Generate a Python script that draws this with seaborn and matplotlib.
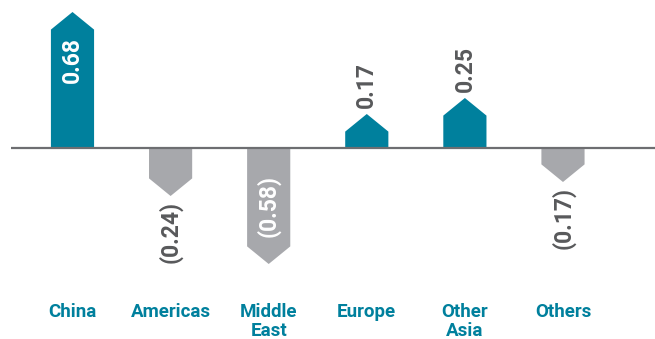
import matplotlib
matplotlib.use("Agg")
import matplotlib.pyplot as plt
from matplotlib.patches import Polygon
import seaborn as sns
import pandas as pd

# Contribution by region
regions = ["China", "Americas", "Middle\nEast", "Europe", "Other\nAsia", "Others"]
values = [0.68, -0.24, -0.58, 0.17, 0.25, -0.17]
value_labels = ["0.68", "(0.24)", "(0.58)", "0.17", "0.25", "(0.17)"]
label_inside = [True, False, True, False, False, False]

TEAL = "#00809d"
GREY = "#a7a8ac"
TEXT_GREY = "#58595b"
HEAD = 0.088  # height of the arrow point, in data units

sns.set_theme(style="white")
plt.rcParams["font.family"] = ["Roboto", "DejaVu Sans"]

df = pd.DataFrame({"region": regions, "value": values})
colors = [TEAL if v > 0 else GREY for v in values]

fig = plt.figure(figsize=(6.55, 3.39), dpi=100)
ax = fig.add_axes([0, 0, 1, 1])
sns.barplot(data=df, x="region", y="value", hue="region", palette=colors,
            legend=False, width=0.44, saturation=1, ax=ax)

# Turn every rectangle into an arrow pointing in the direction of its value
for patch, v, c in zip(list(ax.patches), values, colors):
    x0 = patch.get_x()
    w = patch.get_width()
    x1 = x0 + w
    xm = x0 + w / 2
    sign = 1 if v > 0 else -1
    shoulder = v - sign * HEAD
    poly = Polygon([(x0, 0), (x0, shoulder), (xm, v), (x1, shoulder), (x1, 0)],
                   closed=True, facecolor=c, edgecolor="none", zorder=2)
    patch.remove()
    ax.add_patch(poly)

# Zero line
ax.plot([-0.63, 5.95], [0, 0], color="#6d6e71", lw=1.6, zorder=3,
        solid_capstyle="butt")

# Value labels
for i, (v, lab, inside) in enumerate(zip(values, value_labels, label_inside)):
    if inside:
        if v > 0:
            ax.text(i, v - 0.125, lab, rotation=90, ha="center", va="top",
                    color="white", fontsize=16.5, fontweight="bold")
        else:
            ax.text(i, -0.135, lab, rotation=90, ha="center", va="top",
                    color="white", fontsize=16.5, fontweight="bold")
    else:
        if v > 0:
            ax.text(i, v + 0.03, lab, rotation=90, ha="center", va="bottom",
                    color=TEXT_GREY, fontsize=16.5, fontweight="bold")
        else:
            ax.text(i, v - 0.025, lab, rotation=90, ha="center", va="top",
                    color=TEXT_GREY, fontsize=16.5, fontweight="bold")

# Category labels beneath the chart
for i, r in enumerate(regions):
    ax.text(i, -0.775, r, ha="center", va="top", color=TEAL,
            fontsize=13.5, fontweight="bold", linespacing=1.05)

ax.set_xlim(-0.739, 5.938)
ax.set_ylim(-0.955, 0.74)
ax.axis("off")

fig.savefig("out.png", dpi=100)
